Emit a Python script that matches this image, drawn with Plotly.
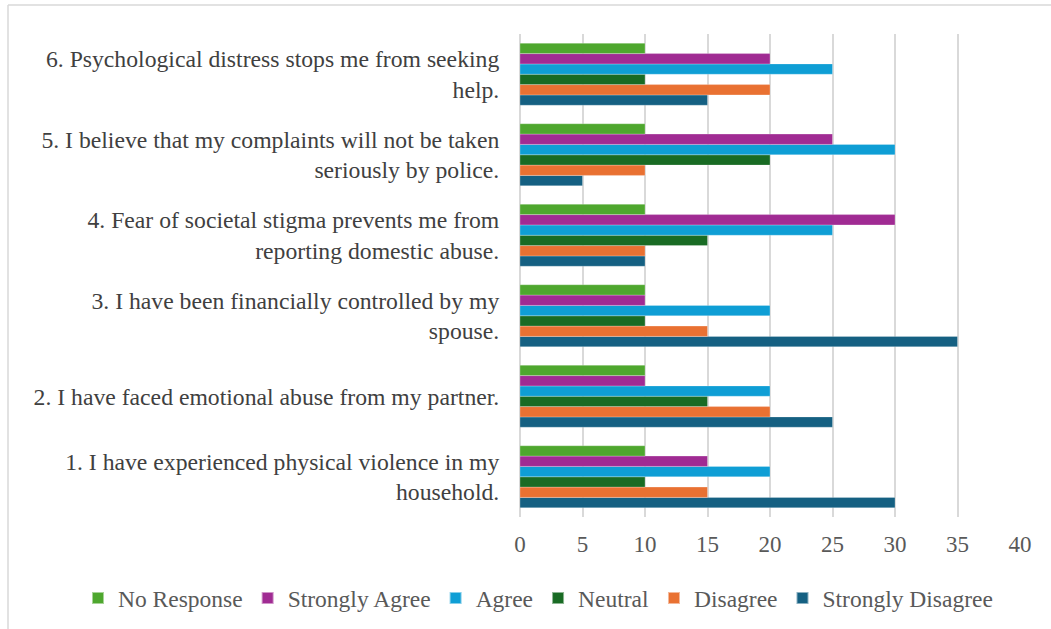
import plotly.graph_objects as go

categories = [
    "1. I have experienced physical violence in my<br>household.",
    "2. I have faced emotional abuse from my partner.",
    "3. I have been financially controlled by my<br>spouse.",
    "4. Fear of societal stigma prevents me from<br>reporting domestic abuse.",
    "5. I believe that my complaints will not be taken<br>seriously by police.",
    "6. Psychological distress stops me from seeking<br>help.",
]
strongly_disagree = [30, 25, 35, 10, 5, 15]
disagree = [15, 20, 15, 10, 10, 20]
neutral = [10, 15, 10, 15, 20, 10]
agree = [20, 20, 20, 25, 30, 25]
strongly_agree = [15, 10, 10, 30, 25, 20]
no_response = [10, 10, 10, 10, 10, 10]

series = [
    ("Strongly Disagree", strongly_disagree, "#156082"),
    ("Disagree", disagree, "#E97132"),
    ("Neutral", neutral, "#196B24"),
    ("Agree", agree, "#0F9ED5"),
    ("Strongly Agree", strongly_agree, "#A02B93"),
    ("No Response", no_response, "#4EA72E"),
]

fig = go.Figure()
for name, vals, color in series:
    fig.add_trace(go.Bar(
        y=categories, x=vals, name=name, orientation="h",
        marker=dict(color=color, line=dict(color="rgba(255,255,255,0.5)", width=0.5)),
    ))

font_family = "Liberation Serif, Times New Roman, serif"
fig.update_layout(
    barmode="group",
    bargap=0.23,
    bargroupgap=0,
    width=1051, height=629,
    margin=dict(l=520, r=31, t=34, b=112, autoexpand=False),
    paper_bgcolor="white",
    plot_bgcolor="white",
    font=dict(family=font_family, size=23, color="#404040"),
    showlegend=True,
    legend=dict(
        orientation="h", traceorder="reversed",
        x=-0.884, xref="paper", xanchor="left",
        y=-0.168, yref="paper", yanchor="middle",
        bgcolor="rgba(0,0,0,0)",
        font=dict(family=font_family, size=23.5, color="#595959"),
        itemwidth=30, itemsizing="constant", tracegroupgap=0,
    ),
    xaxis=dict(
        range=[0, 40], dtick=5, showgrid=True, gridcolor="#D9D9D9", gridwidth=1.5,
        zeroline=True, zerolinecolor="#D9D9D9", zerolinewidth=1.5,
        tickfont=dict(family=font_family, size=23, color="#595959"),
        ticks="outside", ticklen=6, tickcolor="white",
        showline=False, automargin=False,
    ),
    yaxis=dict(
        tickfont=dict(family=font_family, size=23.7, color="#404040"),
        ticks="outside", ticklen=15, tickcolor="white",
        showline=False, automargin=False,
    ),
    shapes=[
        dict(type="line", xref="paper", yref="paper", x0=-1.024, x1=1.07, y0=1.060, y1=1.060,
             line=dict(color="#D9D9D9", width=1.5)),
        dict(type="line", xref="paper", yref="paper", x0=-1.024, x1=-1.024, y0=1.060, y1=-0.3,
             line=dict(color="#D9D9D9", width=1.5)),
    ],
)

fig.write_html("out.html", config={"displayModeBar": False},
               post_script="document.body.style.margin='0';")
